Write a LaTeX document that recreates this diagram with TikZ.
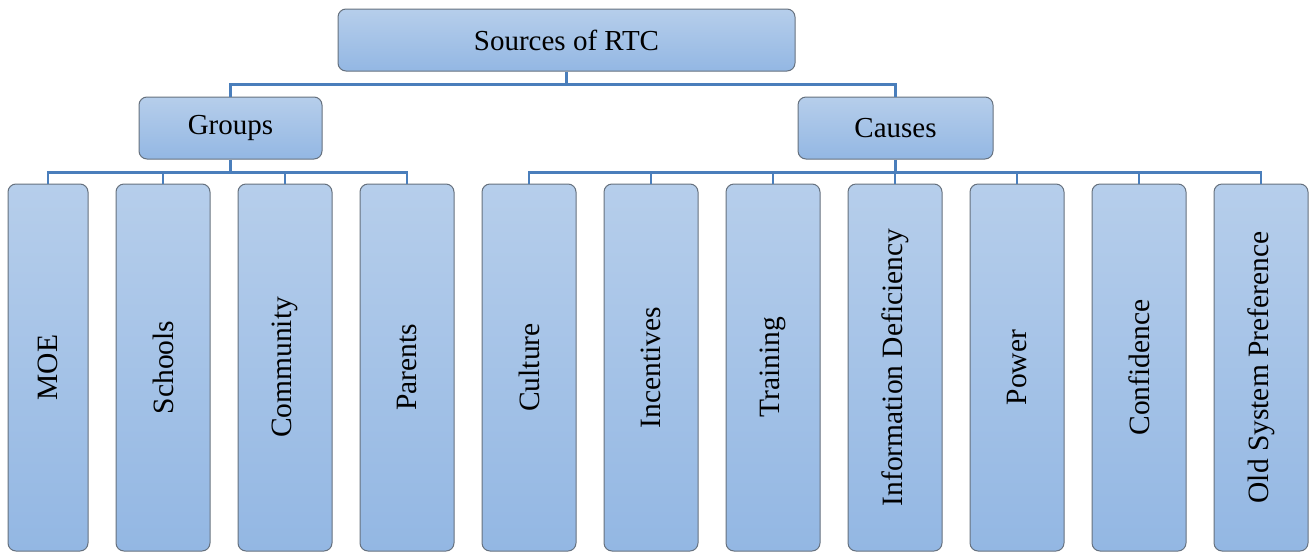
\documentclass[tikz,border=0pt]{standalone}
\usepackage{fontspec}
\setmainfont{Liberation Serif}
\definecolor{boxtop}{HTML}{B6CEEB}
\definecolor{boxbot}{HTML}{93B7E3}
\definecolor{boxedge}{HTML}{66717E}
\definecolor{conn}{HTML}{4A7EBB}
\tikzset{
  box/.style={draw=boxedge, line width=1pt, rounded corners=8pt,
    top color=boxtop, bottom color=boxbot, inner sep=0pt,
    font=\fontsize{29}{34}\selectfont, text=black},
  vbox/.style={draw=boxedge, line width=1pt, rounded corners=8pt,
    top color=boxtop, bottom color=boxbot, inner sep=0pt, rotate=90,
    minimum width=367pt, minimum height=94pt,
    font=\fontsize{29.5}{34}\selectfont, text=black},
  link/.style={draw=conn, line width=2.6pt}
}
\begin{document}
\begin{tikzpicture}[x=1pt,y=1pt]
\useasboundingbox (0,0) rectangle (1313,-552);
% root and the two branches
\node[box, minimum width=457pt, minimum height=62pt] (root) at (566.5,-40) {Sources of RTC};
\node[box, minimum width=183pt, minimum height=62pt] (groups) at (230.5,-128) {Groups};
\node[box, minimum width=195pt, minimum height=62pt] (causes) at (895.5,-128) {Causes};
% leaves under Groups
\node[vbox, minimum height=80pt] (moe) at (48,-367.5) {MOE};
\node[vbox] (schools) at (163,-367.5) {Schools};
\node[vbox] (community) at (285,-367.5) {Community};
\node[vbox] (parents) at (407,-367.5) {Parents};
% leaves under Causes
\node[vbox] (culture) at (529,-367.5) {Culture};
\node[vbox] (incentives) at (651,-367.5) {Incentives};
\node[vbox] (training) at (773,-367.5) {Training};
\node[vbox] (info) at (895,-367.5) {Information Deficiency};
\node[vbox] (power) at (1017,-367.5) {Power};
\node[vbox] (confidence) at (1139,-367.5) {Confidence};
\node[vbox] (oldsys) at (1261,-367.5) {Old System Preference};
% connectors
\coordinate (rbus) at ([yshift=-13pt]root.south);
\coordinate (gbus) at ([yshift=-13pt]groups.south);
\coordinate (cbus) at ([yshift=-13pt]causes.south);
\draw[link] (root.south) -- (rbus);
\foreach \n in {groups,causes} \draw[link] (rbus) -| (\n.north);
\draw[link] (groups.south) -- (gbus);
\foreach \n in {moe,schools,community,parents} \draw[link] (gbus) -| (\n.east);
\draw[link] (causes.south) -- (cbus);
\foreach \n in {culture,incentives,training,info,power,confidence,oldsys} \draw[link] (cbus) -| (\n.east);
\end{tikzpicture}
\end{document}
